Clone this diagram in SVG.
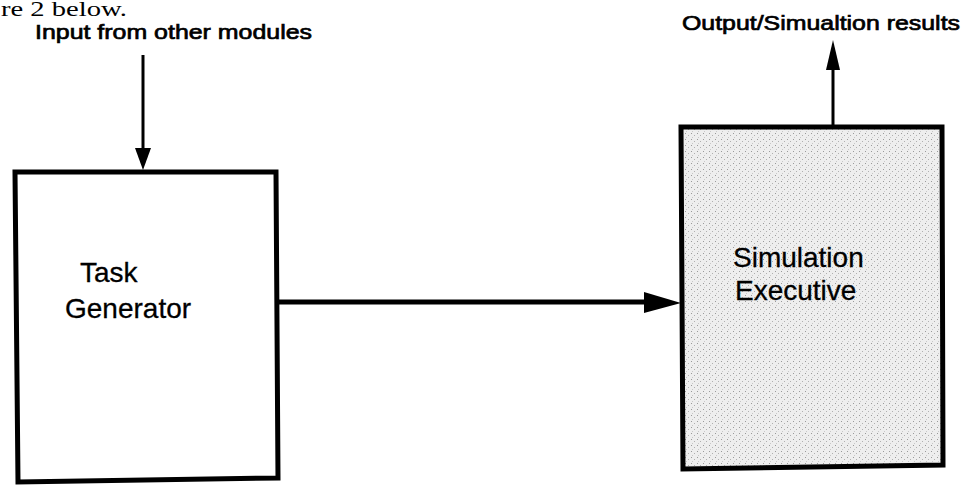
<svg xmlns="http://www.w3.org/2000/svg" width="968" height="486" viewBox="0 0 968 486">
<style>
.box{stroke:#000;stroke-width:5;stroke-linejoin:miter}
.lbl{font-family:"Liberation Sans",Arial,sans-serif;fill:#000}
.node{font-size:28px;stroke:#000;stroke-width:0.3}
.io{font-size:21px;stroke:#000;stroke-width:0.7}
.con{stroke:#000;fill:none}
</style>
<defs>
<pattern id="stip" width="6" height="6" patternUnits="userSpaceOnUse">
<rect width="6" height="6" fill="#eeeeee"/>
<rect x="1" y="1" width="1" height="1" fill="#9a9a9a"/>
<rect x="4" y="3" width="1" height="1" fill="#b0b0b0"/>
<rect x="2" y="5" width="1" height="1" fill="#c8c8c8"/>
</pattern>
</defs>
<text x="1" y="16" textLength="126" lengthAdjust="spacingAndGlyphs" style="font-family:'Liberation Serif','Times New Roman',serif;font-size:22px">re 2 below.</text>
<g id="task-generator">
<polygon class="box" points="15,172 276,172 278,478 18,482" fill="#fff"/>
<text class="lbl node" x="80" y="282">Task</text>
<text class="lbl node" x="65" y="318">Generator</text>
</g>
<g id="simulation-executive">
<polygon class="box" points="681,127 942,127 943,465 683,469" fill="url(#stip)"/>
<text class="lbl node" x="733" y="267">Simulation</text>
<text class="lbl node" x="735" y="300">Executive</text>
</g>
<g id="input-label">
<text class="lbl io" x="35" y="39" textLength="277" lengthAdjust="spacingAndGlyphs">Input from other modules</text>
</g>
<g id="output-label">
<text class="lbl io" x="682" y="30" textLength="278" lengthAdjust="spacingAndGlyphs">Output/Simualtion results</text>
</g>
<g id="connectors">
<line class="con" x1="143" y1="55" x2="143" y2="148" stroke-width="3"/>
<polygon points="135,148 151,148 143,170"/>
<line class="con" x1="833" y1="125" x2="833" y2="68" stroke-width="3"/>
<polygon points="826,70 840,70 833,40"/>
<line class="con" x1="278" y1="302" x2="646" y2="302" stroke-width="5"/>
<polygon points="644,292 644,313 681,303"/>
</g>
</svg>
